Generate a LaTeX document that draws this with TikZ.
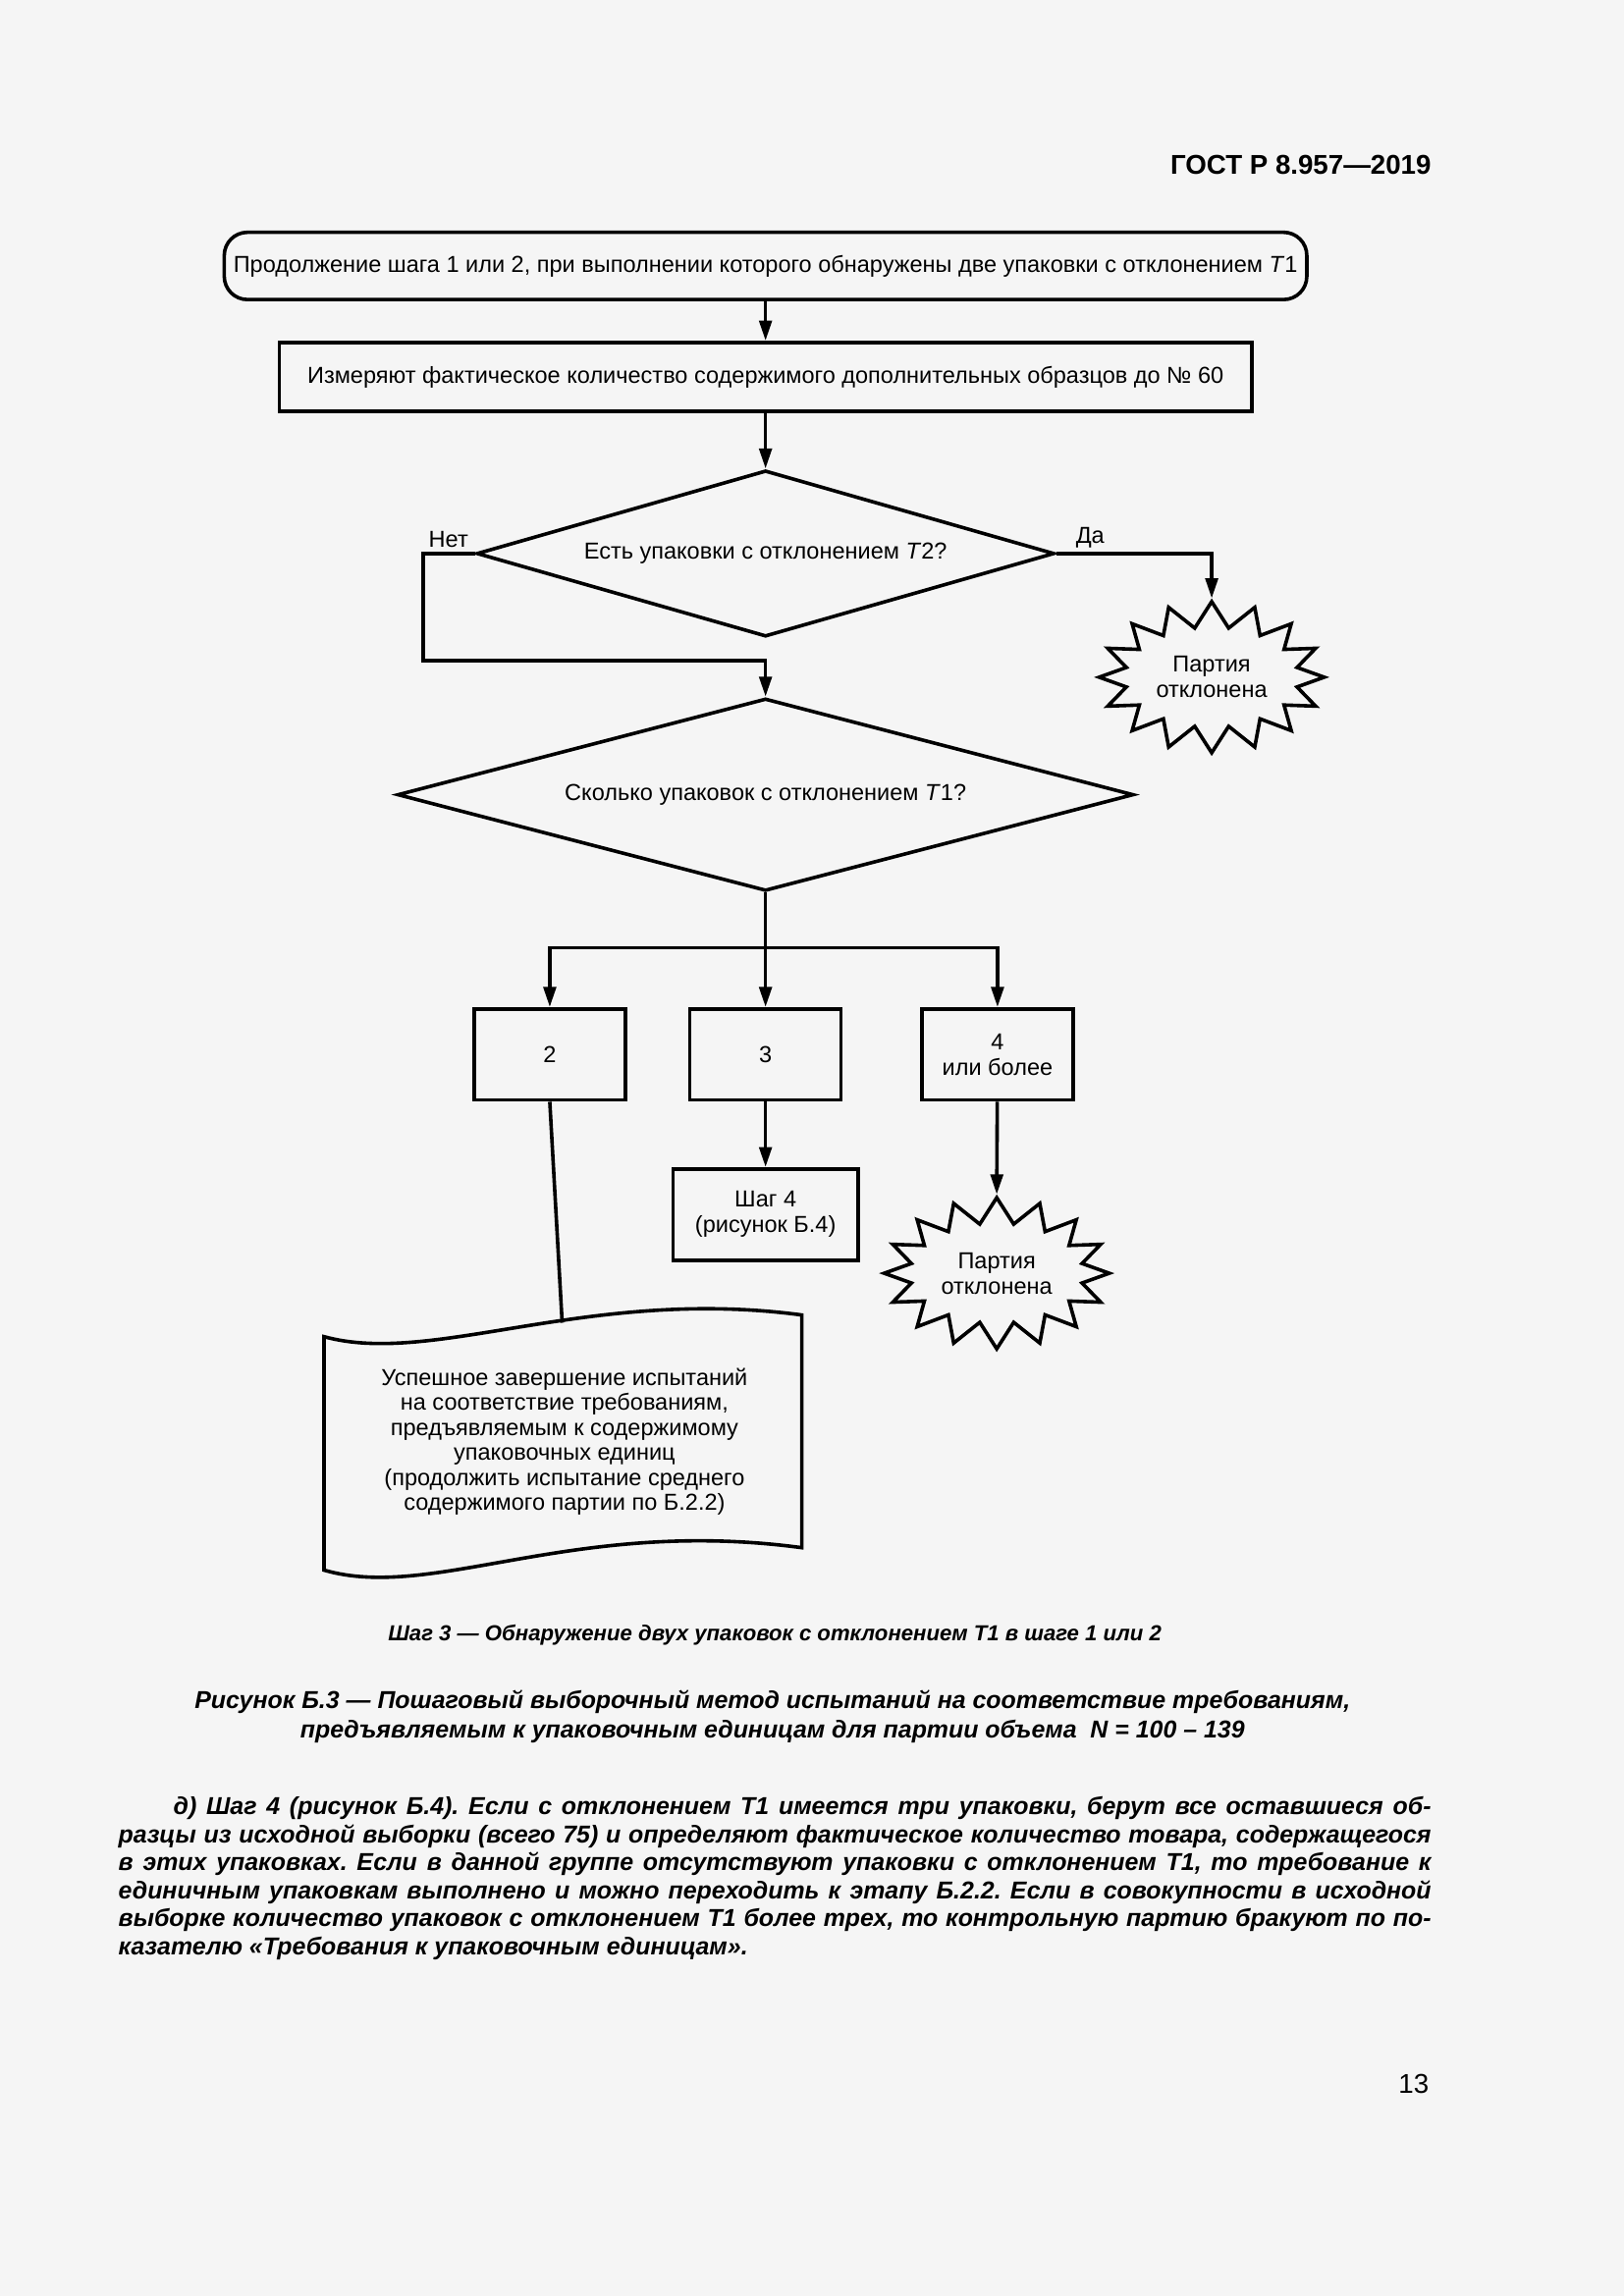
\documentclass[tikz,border=0pt]{standalone}
\usepackage{fontspec}
\setmainfont{Liberation Sans}
\usetikzlibrary{shapes.geometric,shapes.symbols,arrows.meta}
\definecolor{pagebg}{HTML}{F5F5F5}
\frenchspacing

\begin{document}
\begin{tikzpicture}[line width=1.3pt,
    arr/.style={-{Triangle[length=2.6mm,width=1.6mm]}},
    txt/.style={font=\fontsize{8.5}{9.4}\selectfont, align=center},
    blk/.style={draw, txt, rectangle, minimum width=#1, minimum height=1.18cm, inner sep=1pt},
    blk/.default=1.955cm,
    ask/.style={draw, txt, diamond, aspect=3.5, inner sep=0pt},
    burst/.style={draw, txt, starburst, starburst points=16, starburst point height=0.33cm,
        random starburst=0, minimum width=2.91cm, minimum height=1.955cm, inner sep=0pt}]
    \fill[pagebg] (0,0) rectangle (21,-29.7);
    \useasboundingbox (0,0) rectangle (21,-29.7);

    \node[anchor=base east, inner sep=0pt, font=\bfseries\fontsize{10}{12}\selectfont] (head) at (18.53,-2.25) {ГОСТ Р 8.957—2019};

    % flow
    \node[draw, txt, rounded corners=3mm, minimum width=14cm, minimum height=0.87cm, inner sep=0pt] (start) at (9.9,-3.44)
        {Продолжение шага 1 или 2, при выполнении которого обнаружены две упаковки с отклонением \textit{T}1};
    \node[blk=12.58cm, minimum height=0.89cm] (meas) at (9.9,-4.875)
        {Измеряют фактическое количество содержимого дополнительных образцов до № 60};
    \node[ask, minimum width=7.47cm, minimum height=2.15cm] (d1) at (9.9,-7.16) {Есть упаковки с отклонением \textit{T}2?};
    \node[burst] (rej1) at (15.67,-8.76) {Партия\\отклонена};
    \node[ask, aspect=3.8, minimum width=9.52cm, minimum height=2.49cm] (d2) at (9.9,-10.28) {Сколько упаковок с отклонением \textit{T}1?};

    \node[blk] (n2) at (7.11,-13.64) {2};
    \node[blk] (n3) at (9.9,-13.64) {3};
    \node[blk] (n4) at (12.9,-13.64) {4\\или более};
    \node[blk=2.39cm] (step4) at (9.9,-15.71) {Шаг 4\\(рисунок Б.4)};
    \node[burst] (rej2) at (12.89,-16.47) {Партия\\отклонена};

    % document shape
    \draw (4.19,-17.29) .. controls (5.6,-17.68) and (7.6,-16.64) .. (10.37,-17.01)
        -- (10.37,-20.02) .. controls (7.4,-19.62) and (5.6,-20.72) .. (4.19,-20.31) -- cycle;
    \node[txt, font=\fontsize{8.5}{9.2}\selectfont] (done) at (7.3,-18.65)
        {Успешное завершение испытаний\\на соответствие требованиям,\\предъявляемым к содержимому\\упаковочных единиц\\(продолжить испытание среднего\\содержимого партии по Б.2.2)};

    \coordinate (nt) at (5.47,-8.545);
    \coordinate (br) at (9.9,-12.26);
    \coordinate (dtop) at (7.27,-17.11);

    \draw[arr] (start) -- (meas);
    \draw[arr] (meas) -- (d1);
    \draw[arr] (d1.west) -| (nt) -- (nt -| d2.north) -- (d2.north);
    \draw[arr] (d1.east) -| (rej1.north);
    \draw (d2.south) -- (br);
    \draw[arr] (br) -| (n2.north);
    \draw[arr] (br) -- (n3.north);
    \draw[arr] (br) -| (n4.north);
    \draw[arr] (n3) -- (step4);
    \draw[arr] (n4) -- (rej2.north);
    \draw (n2.south) -- (dtop);

    \node[txt, anchor=south west, inner sep=1.5pt] (no) at (d1.west -| nt) {Нет};
    \node[txt, anchor=south west, inner sep=1.5pt] (yes) at ([xshift=1.8mm]d1.east) {Да};

    % captions
    \node[font=\bfseries\itshape\fontsize{8}{9.5}\selectfont, anchor=base] (sub) at (10.02,-21.23)
        {Шаг 3 — Обнаружение двух упаковок с отклонением Т1 в шаге 1 или 2};
    \node[font=\bfseries\itshape\fontsize{9}{10.8}\selectfont, align=center] (cap) at (9.99,-22.2)
        {Рисунок Б.3 — Пошаговый выборочный метод испытаний на соответствие требованиям,\\
         предъявляемым к упаковочным единицам для партии объема\ \ N = 100 – 139};
    \node[font=\bfseries\itshape\fontsize{9}{10.3}\selectfont, anchor=north west, inner sep=0pt,
        text width=16.975cm, align=justify] (para) at (1.51,-23.22)
        {\hspace*{0.71cm}д) Шаг 4 (рисунок Б.4). Если с отклонением Т1 имеется три упаковки, берут все оставшиеся об-\linebreak
         разцы из исходной выборки (всего 75) и определяют фактическое количество товара, содержащегося\linebreak
         в этих упаковках. Если в данной группе отсутствуют упаковки с отклонением Т1, то требование к\linebreak
         единичным упаковкам выполнено и можно переходить к этапу Б.2.2. Если в совокупности в исходной\linebreak
         выборке количество упаковок с отклонением Т1 более трех, то контрольную партию бракуют по по-\linebreak
         казателю «Требования к упаковочным единицам».};
    \node[anchor=base east, inner sep=0pt, font=\fontsize{10}{12}\selectfont] (page) at (18.5,-27.08) {13};
\end{tikzpicture}
\end{document}
